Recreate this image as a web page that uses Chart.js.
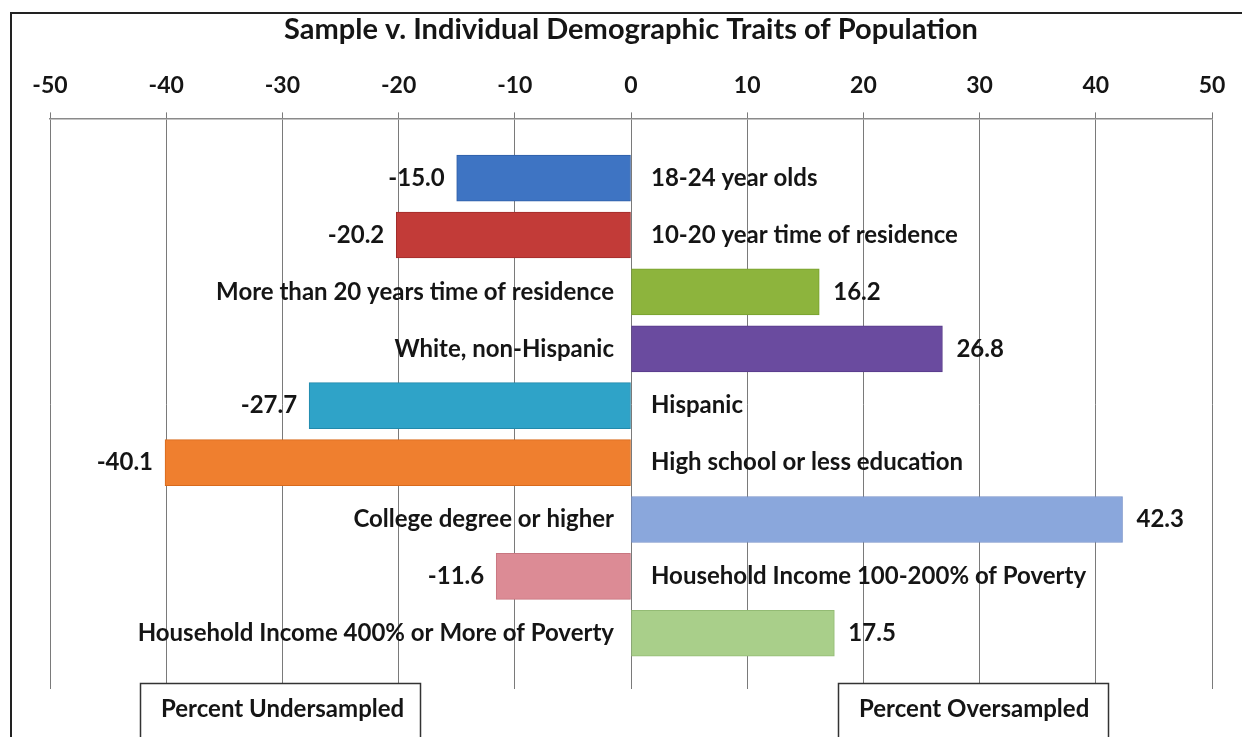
<!DOCTYPE html>
<html>
<head>
<meta charset="utf-8">
<script src="https://cdn.jsdelivr.net/npm/chart.js@4.4.1/dist/chart.umd.min.js"></script>
<style>
  html, body { margin: 0; padding: 0; background: #ffffff; }
  #wrap { width: 1242px; height: 737px; position: relative; }
</style>
</head>
<body>
<div id="wrap"><canvas id="chart" width="1242" height="737"></canvas></div>
<script>
// Demographic traits: difference between sample and population (percent)
const categories = [
  '18-24 year olds',
  '10-20 year time of residence',
  'More than 20 years time of residence',
  'White, non-Hispanic',
  'Hispanic',
  'High school or less education',
  'College degree or higher',
  'Household Income 100-200% of Poverty',
  'Household Income 400% or More of Poverty'
];
const values = [-15.0, -20.2, 16.2, 26.8, -27.7, -40.1, 42.3, -11.6, 17.5];
const barColors = [
  '#3e74c3', '#c23b38', '#8db43d', '#6a4b9f', '#2fa3c8',
  '#ef7f2f', '#8aa7dc', '#dc8b95', '#a9cf8a'
];
const barEdges = [
  '#2f5ea6', '#a02c2a', '#77a02e', '#573a88', '#2289ab',
  '#d86a1c', '#7590c8', '#c87680', '#93bb74'
];
const xTicks = [-50, -40, -30, -20, -10, 0, 10, 20, 30, 40, 50];
const chartTitle = 'Sample v. Individual Demographic Traits of Population';
const leftNote = 'Percent Undersampled';
const rightNote = 'Percent Oversampled';

const FONT = 'Lato, "Liberation Sans", sans-serif';
const INK = '#151515';

// White page, outer frame and the two notes under the plot
const framePlugin = {
  id: 'frame',
  beforeDraw(chart) {
    const ctx = chart.ctx;
    ctx.save();
    ctx.fillStyle = '#ffffff';
    ctx.fillRect(0, 0, chart.width, chart.height);
    ctx.strokeStyle = '#222222';
    ctx.lineWidth = 2;
    ctx.beginPath();
    ctx.moveTo(11, chart.height);
    ctx.lineTo(11, 13);
    ctx.lineTo(chart.width, 13);
    ctx.stroke();
    ctx.restore();
  },
  afterDraw(chart) {
    const ctx = chart.ctx;
    ctx.save();
    const boxes = [
      { text: leftNote, x: 140, w: 280 },
      { text: rightNote, x: 838, w: 270 }
    ];
    ctx.font = 'bold 24px ' + FONT;
    ctx.textBaseline = 'middle';
    ctx.textAlign = 'left';
    boxes.forEach(b => {
      ctx.fillStyle = '#ffffff';
      ctx.fillRect(b.x, 683, b.w, 60);
      ctx.strokeStyle = '#333333';
      ctx.lineWidth = 1.5;
      ctx.strokeRect(b.x + 0.5, 683.5, b.w, 60);
      ctx.fillStyle = INK;
      ctx.fillText(b.text, b.x + 21, 709);
    });
    ctx.restore();
  }
};

// Category names beside the zero line and values at the bar ends
const labelPlugin = {
  id: 'barLabels',
  afterDatasetsDraw(chart) {
    const ctx = chart.ctx;
    const meta = chart.getDatasetMeta(0);
    const zeroX = chart.scales.x.getPixelForValue(0);
    ctx.save();
    ctx.fillStyle = INK;
    ctx.textBaseline = 'middle';
    ctx.font = 'bold 24px ' + FONT;
    meta.data.forEach((bar, i) => {
      const v = values[i];
      const y = bar.y;
      const txt = v.toFixed(1);
      if (v < 0) {
        ctx.textAlign = 'left';
        ctx.fillText(categories[i], zeroX + 20, y);
        ctx.textAlign = 'right';
        ctx.fillText(txt, bar.x - 12, y);
      } else {
        ctx.textAlign = 'right';
        ctx.fillText(categories[i], zeroX - 17, y);
        ctx.textAlign = 'left';
        ctx.fillText(txt, bar.x + 14, y);
      }
    });
    ctx.restore();
  }
};

new Chart(document.getElementById('chart'), {
  type: 'bar',
  data: {
    labels: categories,
    datasets: [{
      data: values.map((v, i) => ({ x: v, y: i })),
      backgroundColor: barColors,
      borderColor: barEdges,
      borderWidth: 1,
      borderSkipped: false,
      barThickness: 46
    }]
  },
  options: {
    indexAxis: 'y',
    responsive: false,
    animation: false,
    layout: { padding: { left: 50, right: 30, top: 0, bottom: 48 } },
    plugins: {
      legend: { display: false },
      tooltip: { enabled: false },
      title: {
        display: true,
        text: chartTitle,
        color: INK,
        font: { family: FONT, size: 29, weight: 'bold' },
        padding: { top: 12, bottom: 12 }
      }
    },
    scales: {
      x: {
        type: 'linear',
        position: 'top',
        min: -50,
        max: 50,
        afterBuildTicks(scale) { scale.ticks = xTicks.map(v => ({ value: v })); },
        ticks: {
          color: INK,
          padding: 13,
          font: { family: FONT, size: 23, weight: 'bold' },
          maxRotation: 0
        },
        grid: {
          color: '#7a7a7a',
          lineWidth: 1,
          drawTicks: true,
          tickLength: 6
        },
        border: { display: true, color: '#8a8a8a', width: 1.5 }
      },
      y: {
        type: 'linear',
        reverse: true,
        offset: false,
        min: -1.05,
        max: 8.98,
        display: false
      }
    }
  },
  plugins: [framePlugin, labelPlugin]
});
</script>
</body>
</html>
